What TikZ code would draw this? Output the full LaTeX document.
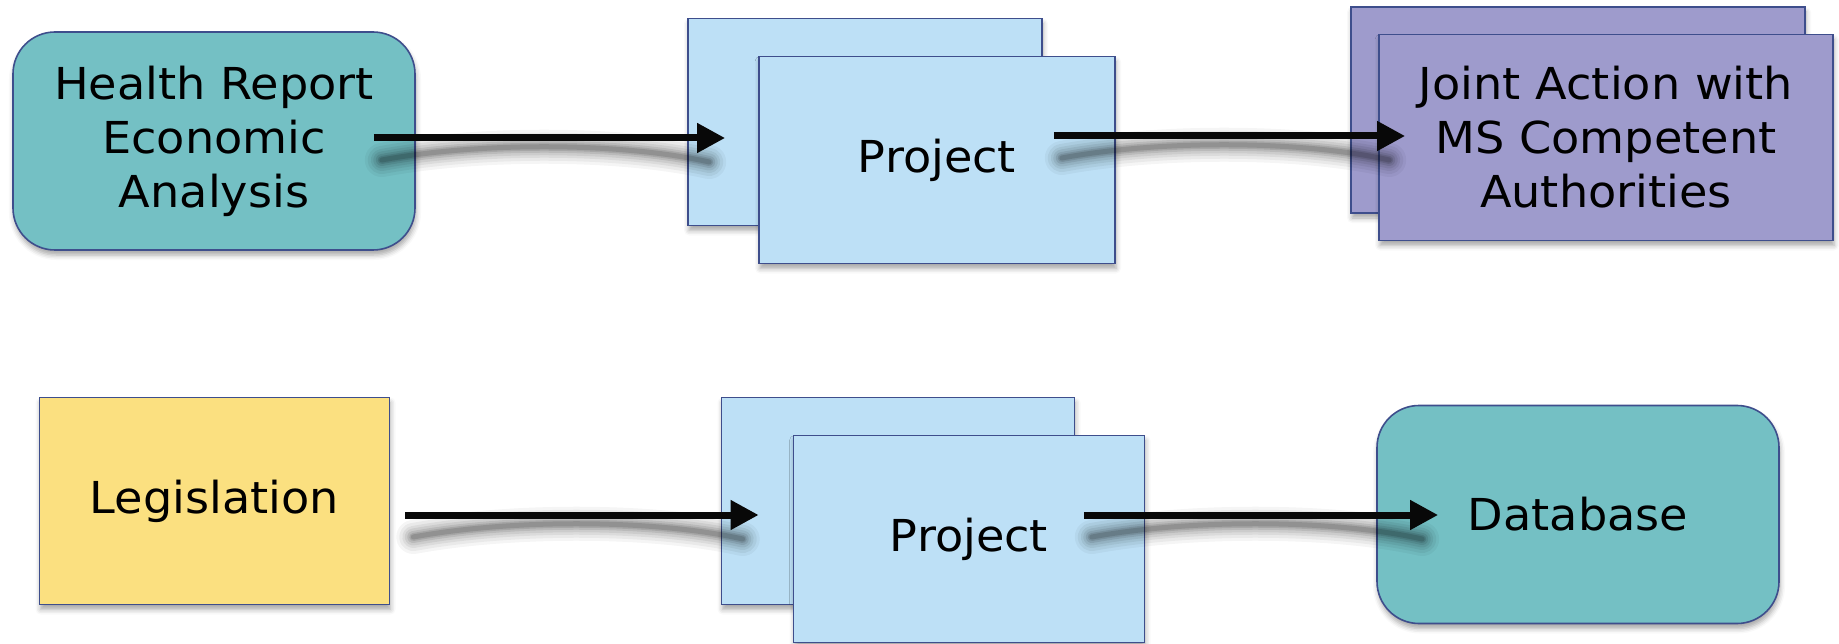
\documentclass[tikz,border=0pt]{standalone}
\usepackage{fontspec}
\setmainfont{DejaVu Sans}[FakeStretch=1.05]
\usetikzlibrary{arrows.meta,calc,shadows.blur}
\definecolor{tealbox}{RGB}{116,192,196}
\definecolor{projblue}{RGB}{189,224,246}
\definecolor{purplebox}{RGB}{158,155,204}
\definecolor{yellowbox}{RGB}{251,224,128}
\definecolor{navyline}{RGB}{62,78,140}
\definecolor{arrowblack}{RGB}{8,8,8}
\newcommand\ArrShadow[2]{%
  \foreach \w/\o in {34/0.04,28/0.05,22/0.06,17/0.07,12/0.09,8/0.11,5/0.13}{%
    \draw[line width=\w pt, black, opacity=\o, line cap=round]
      ($(#1)+(8pt,-22pt)$) .. controls ($(#1)!0.3!(#2)+(0,-4pt)$) and ($(#1)!0.7!(#2)+(0,-4pt)$) .. ($(#2)+(-16pt,-24pt)$);
  }%
}
\begin{document}
\begin{tikzpicture}[x=1pt,y=-1pt,
  boxbase/.style={draw=navyline, line width=1.6pt, inner sep=0pt, align=center,
    font=\fontsize{44}{54}\selectfont,
    blur shadow={shadow xshift=1pt, shadow yshift=-5pt, shadow blur radius=5pt, shadow opacity=35}},
  roundbox/.style={boxbase, fill=tealbox, rounded corners=42pt, minimum width=402pt, minimum height=218pt},
  projbox/.style={boxbase, fill=projblue, minimum width=354pt, minimum height=207pt},
  jointbox/.style={boxbase, fill=purplebox, minimum width=454pt, minimum height=206pt},
  legbox/.style={boxbase, fill=yellowbox, minimum width=350pt, minimum height=207pt},
  flow/.style={draw=arrowblack, line width=7pt, -{Triangle[length=28pt,width=28pt]}}]
\useasboundingbox (0,0) rectangle (1839,644);
% row 1
\node[roundbox] (health) at (214,141) {Health Report\\Economic\\Analysis};
\node[projbox] (p1b) at (865,122) {};
\node[projbox, minimum width=356pt] (p1f) at (937,160) {Project};
\node[jointbox] (jb) at (1578,110) {};
\node[jointbox] (jf) at (1606,137.5) {Joint Action with\\MS Competent\\Authorities};
% row 2
\node[legbox] (leg) at (214.5,501) {Legislation};
\node[projbox, minimum width=353pt] (p2b) at (898,501) {};
\node[projbox, minimum width=351pt] (p2f) at (969,539) {Project};
\node[roundbox] (db) at (1578,514.5) {Database};
% arrow end points
\coordinate (a1s) at ([xshift=-42pt,yshift=3pt]health.east);
\coordinate (a1e) at ([xshift=-33pt,yshift=22pt]p1f.west);
\coordinate (a2s) at ([xshift=-62pt,yshift=24pt]p1f.east);
\coordinate (a2e) at ([xshift=27pt,yshift=1.5pt]jf.west);
\coordinate (a3s) at ([xshift=15pt,yshift=-14pt]leg.east);
\coordinate (a3e) at ([xshift=-34pt,yshift=24pt]p2f.west);
\coordinate (a4s) at ([xshift=-61.5pt,yshift=24pt]p2f.east);
\coordinate (a4e) at ([xshift=62pt,yshift=-0.5pt]db.west);
% shadows
\ArrShadow{a1s}{a1e}
\ArrShadow{a2s}{a2e}
\ArrShadow{a3s}{a3e}
\ArrShadow{a4s}{a4e}
% arrows
\draw[flow] (a1s) -- (a1e);
\draw[flow] (a2s) -- (a2e);
\draw[flow] (a3s) -- (a3e);
\draw[flow] (a4s) -- (a4e);
\end{tikzpicture}
\end{document}
